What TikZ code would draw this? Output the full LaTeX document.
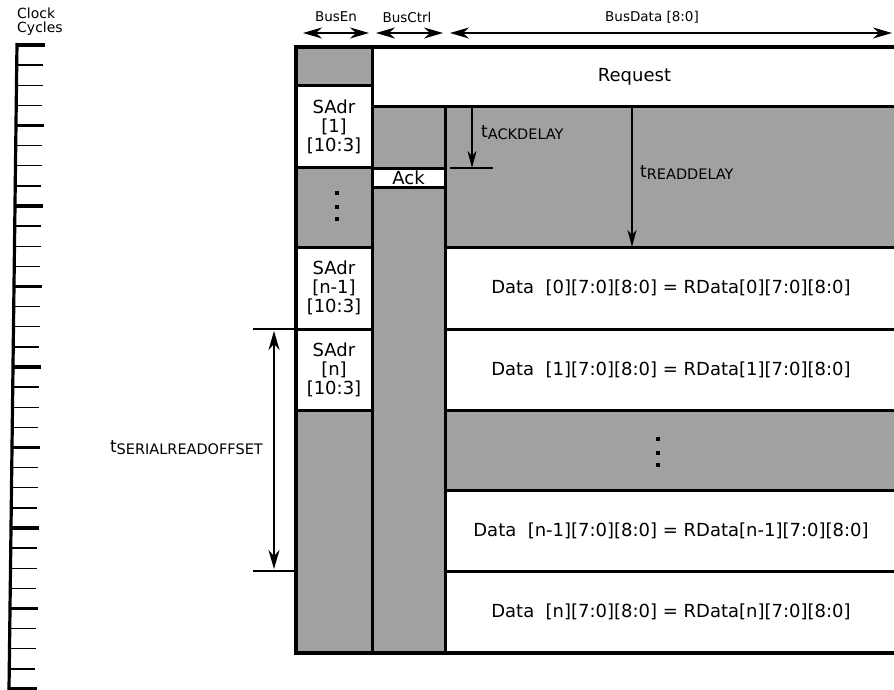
\documentclass[tikz,border=0pt]{standalone}
\usepackage{fontspec}
\setmainfont{DejaVu Sans}
\usetikzlibrary{arrows.meta,positioning,calc}
\colorlet{cellgray}{black!37}
\newcommand{\tsub}[1]{t\raisebox{-2pt}{\fontsize{14.5}{14.5}\selectfont#1}}

\begin{document}
\begin{tikzpicture}[x=1pt, y=-1pt,
    cell/.style={draw, line width=3pt, anchor=north west, inner sep=0pt,
                 outer sep=0pt, font=\fontsize{18}{19}\selectfont, align=center},
    shade/.style={cell, fill=cellgray},
    blank/.style={cell, fill=white},
    hdr/.style={font=\fontsize{13.5}{14}\selectfont},
    sub/.style={font=\fontsize{17}{17}\selectfont, inner sep=0pt},
    dimarr/.style={{Stealth[length=19pt,width=11pt,inset=6pt]}-{Stealth[length=19pt,width=11pt,inset=6pt]},
                   line width=1.8pt},
    delarr/.style={-{Stealth[length=17pt,width=9pt,inset=5pt]}, line width=1.5pt},
    tick/.style={line width=1.4pt},
    bigtick/.style={line width=3.2pt}]
  \clip (0,0) rectangle (894,690);

  % clock ruler
  \node[font=\fontsize{14}{14}\selectfont, align=left, anchor=north west, inner sep=0pt]
    (clk) at (17,8) {Clock\\Cycles};
  \draw[line width=3.2pt] (17,43) -- (9,690);
  \foreach \k in {0,...,32}{
    \pgfmathsetmacro\ty{45+20.125*\k}
    \pgfmathsetmacro\tx{17-8*(\ty-45)/645}
    \pgfmathtruncatemacro\m{mod(\k,4)}
    \ifnum\m=0
      \draw[bigtick] (\tx,\ty) -- ++(28,0);
    \else
      \draw[tick] (\tx,\ty) -- ++(26,0);
    \fi
  }

  % BusEn column
  \node[shade, minimum width=76pt, minimum height=39pt] (en0) at (296,47) {};
  \node[blank, minimum width=76pt, minimum height=81pt] (sadr1) at (296,86) {SAdr\\{[1]}\\{[10:3]}};
  \node[shade, minimum width=76pt, minimum height=80pt] (en1) at (296,167) {};
  \node[blank, minimum width=76pt, minimum height=82pt] (sadrm) at (296,247) {SAdr\\{[n-1]}\\{[10:3]}};
  \node[blank, minimum width=76pt, minimum height=81pt] (sadrn) at (296,329) {SAdr\\{[n]}\\{[10:3]}};
  \node[shade, minimum width=76pt, minimum height=243pt] (en2) at (296,410) {};

  % BusCtrl column
  \node[blank, minimum width=525pt, minimum height=60pt] (req) at (372,47) {Request};
  \node[shade, minimum width=73pt, minimum height=61pt] (ctl0) at (372,107) {};
  \node[blank, minimum width=73pt, minimum height=19pt] (ack) at (372,168) {Ack};
  \node[shade, minimum width=73pt, minimum height=466pt] (ctl1) at (372,187) {};

  % BusData column
  \node[shade, minimum width=452pt, minimum height=140pt] (gap0) at (445,107) {};
  \node[blank, minimum width=452pt, minimum height=82pt] (d0) at (445,247)
    {Data\ \ [0][7:0][8:0] = RData[0][7:0][8:0]};
  \node[blank, minimum width=452pt, minimum height=81pt] (d1) at (445,329)
    {Data\ \ [1][7:0][8:0] = RData[1][7:0][8:0]};
  \node[shade, minimum width=452pt, minimum height=80pt] (gap1) at (445,410) {};
  \node[blank, minimum width=452pt, minimum height=81pt] (dm) at (445,490)
    {Data\ \ [n-1][7:0][8:0] = RData[n-1][7:0][8:0]};
  \node[blank, minimum width=452pt, minimum height=82pt] (dn) at (445,571)
    {Data\ \ [n][7:0][8:0] = RData[n][7:0][8:0]};

  % outer frame
  \draw[line width=3.6pt] (req.north east) -- (en0.north west) -- (en2.south west) -- (dn.south east);

  % continuation dots
  \foreach \dy in {-14,0,12}{
    \fill ($(en1.center)+(1,\dy-2)$) rectangle +(4,4);
    \fill ($(gap1.center)+(-15,\dy+1)$) rectangle +(4,4);
  }

  % header
  \coordinate (hy) at (0,33);
  \node[hdr] (enlab) at (336,17) {BusEn};
  \node[hdr] (ctllab) at (407,17) {BusCtrl};
  \node[hdr] (datlab) at (652,17) {BusData [8:0]};
  \draw[dimarr] ($(en0.west |- hy)+(7,0)$) -- ($(en0.east |- hy)+(-3,0)$);
  \draw[dimarr] ($(ctl0.west |- hy)+(4,0)$) -- ($(ctl0.east |- hy)+(-2,0)$);
  \draw[dimarr] ($(gap0.west |- hy)+(5,0)$) -- (892,33);

  % ack delay
  \coordinate (acktop) at ($(gap0.north west)+(27,0)$);
  \coordinate (ackbot) at (acktop |- ack.north);
  \draw[line width=1.8pt] ($(ackbot)+(-22,0)$) -- ($(ackbot)+(21,0)$);
  \draw[delarr] (acktop) -- (ackbot);
  \node[sub, anchor=west] (ackdly) at ($(acktop)+(9,26)$) {\tsub{ACKDELAY}};

  % read delay
  \coordinate (rdtop) at ($(gap0.north west)+(187,0)$);
  \coordinate (rdbot) at (rdtop |- gap0.south);
  \draw[delarr] (rdtop) -- (rdbot);
  \node[sub, anchor=west] (rddly) at ($(rdtop)+(8,66)$) {\tsub{READDELAY}};

  % serial read offset
  \coordinate (srotop) at ($(sadrn.north west)+(-43,0)$);
  \coordinate (srobot) at (srotop |- dn.north);
  \draw[line width=1.8pt] (srotop) -- (sadrn.north west);
  \draw[line width=1.8pt] (srobot) -- (en2.west |- dn.north);
  \draw[dimarr, line width=1.5pt] ($(srotop)+(21,2)$) -- ($(srobot)+(21,-2)$);
  \node[sub, anchor=east] (srodly) at ($(srotop)!0.5!(srobot)+(10,-2)$) {\tsub{SERIALREADOFFSET}};
\end{tikzpicture}
\end{document}
